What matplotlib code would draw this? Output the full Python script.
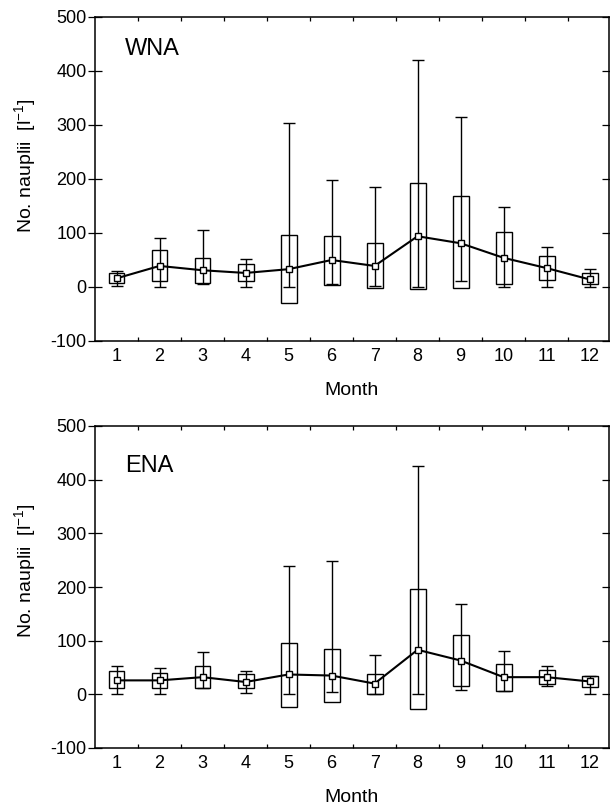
import numpy as np
import matplotlib
matplotlib.use('Agg')
import matplotlib.pyplot as plt

plt.rcParams['font.family'] = ['Liberation Sans', 'DejaVu Sans']
plt.rcParams['mathtext.fontset'] = 'custom'
plt.rcParams['mathtext.rm'] = 'Liberation Sans'
plt.rcParams['mathtext.it'] = 'Liberation Sans:italic'
plt.rcParams['axes.unicode_minus'] = False

months = np.arange(1, 13)

# WNA (top panel)
wna_mean = [16, 39, 31, 26, 33, 50, 39, 94, 81, 54, 35, 14]
wna_box_lo = [8, 12, 8, 11, -29, 4, -2, -4, -2, 6, 13, 6]
wna_box_hi = [26, 69, 53, 42, 96, 94, 81, 193, 168, 102, 58, 25]
wna_min = [1, 0, 5, 0, 0, 5, 1, 0, 11, 0, 0, 0]
wna_max = [30, 91, 106, 52, 303, 198, 186, 420, 314, 148, 74, 33]

# ENA (bottom panel)
ena_mean = [26, 26, 32, 23, 37, 35, 20, 83, 63, 32, 32, 24]
ena_box_lo = [11, 11, 12, 11, -24, -14, 1, -27, 15, 6, 19, 14]
ena_box_hi = [43, 40, 53, 37, 96, 84, 38, 197, 110, 57, 45, 35]
ena_min = [0, 0, 12, 3, 1, 4, 1, 0, 8, 6, 16, 0]
ena_max = [52, 49, 79, 43, 240, 248, 74, 426, 169, 81, 53, 35]

month_labels = [str(m) for m in months]
y_ticks = [-100, 0, 100, 200, 300, 400, 500]


def draw_panel(ax, mean, box_lo, box_hi, vmin, vmax, name, name_y, label_y):
    mean = np.array(mean)
    box_lo = np.array(box_lo)
    box_hi = np.array(box_hi)
    # box, whiskers (min-max), then mean line with square markers
    ax.bar(months, box_hi - box_lo, bottom=box_lo, width=0.37, fill=False,
           edgecolor='black', linewidth=1.0, zorder=2)
    ax.errorbar(months, mean, yerr=[mean - np.array(vmin), np.array(vmax) - mean],
                fmt='none', ecolor='black', elinewidth=1.0, capsize=4,
                capthick=1.0, zorder=3)
    ax.plot(months, mean, color='black', linewidth=1.5, marker='s',
            markersize=4.5, markerfacecolor='white', markeredgecolor='black',
            markeredgewidth=1.0, zorder=4)

    ax.set_xlim(0.5, 12.45)
    ax.set_ylim(-100, 500)
    ax.set_xticks(months)
    ax.set_xticklabels(month_labels)
    ax.set_xticks(months[:-1] + 0.5, minor=True)
    ax.tick_params(axis='x', which='major', length=0, pad=5, labelsize=13)
    ax.tick_params(axis='x', which='minor', direction='in', length=3,
                   top=True, bottom=True, width=0.9)
    ax.set_yticks(y_ticks)
    ax.tick_params(axis='y', direction='inout', length=10, pad=1,
                   labelsize=13, right=True, width=0.9)
    for s in ax.spines.values():
        s.set_linewidth(1.1)
    ax.set_xlabel('Month', fontsize=14, labelpad=12)
    ax.set_ylabel(r'No. nauplii  [l$^{\mathrm{-1}}$]', fontsize=14, labelpad=9)
    ax.yaxis.label.set_y(label_y)
    ax.text(0.058, name_y, name, transform=ax.transAxes, fontsize=17,
            ha='left', va='baseline')


fig = plt.figure(figsize=(6.1, 8.09), dpi=100)
ax1 = fig.add_axes([95 / 610, 1 - 341 / 809, 514 / 610, 324 / 809])
ax2 = fig.add_axes([95 / 610, 1 - 748 / 809, 514 / 610, 322 / 809])

draw_panel(ax1, wna_mean, wna_box_lo, wna_box_hi, wna_min, wna_max, 'WNA', 0.883, 0.543)
draw_panel(ax2, ena_mean, ena_box_lo, ena_box_hi, ena_min, ena_max, 'ENA', 0.856, 0.552)

fig.savefig('out.png', dpi=100)
